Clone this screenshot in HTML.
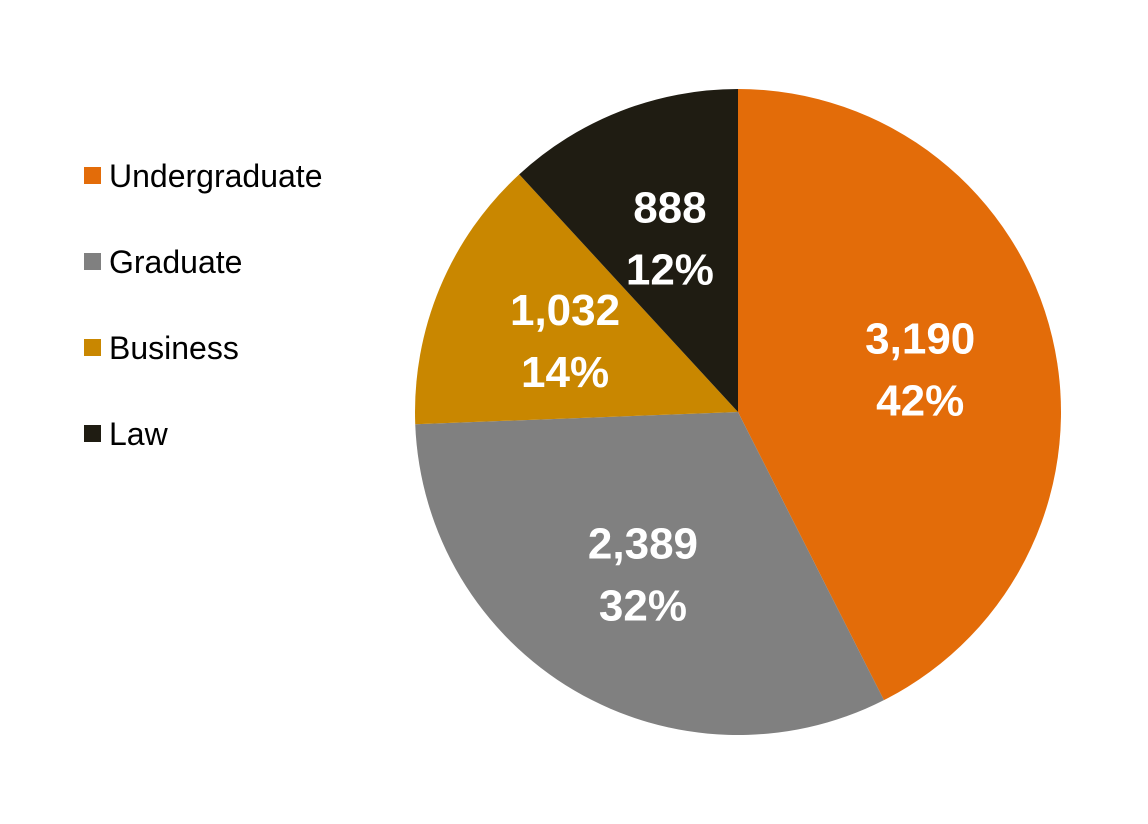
<!DOCTYPE html>
<html><head><meta charset="utf-8"><style>
body{margin:0;background:#fff;}
svg{display:block}
</style></head><body>
<svg id="chart" width="1148" height="824" viewBox="0 0 1148 824" xmlns="http://www.w3.org/2000/svg">
<g id="legend"></g>
<g id="slices"></g>
<g id="labels"></g>
</svg>
<script>
const categories = ["Undergraduate","Graduate","Business","Law"];
const values = [3190,2389,1032,888];
const percentLabels = ["42%","32%","14%","12%"];
const colors = ["#E36C09","#808080","#C98700","#1F1C12"];
const NS="http://www.w3.org/2000/svg";
const cx=738, cy=412, R=323;
const total=values.reduce((a,b)=>a+b,0);
const sl=document.getElementById('slices'), lb=document.getElementById('labels'), lg=document.getElementById('legend');
function pt(a,r){return [cx+r*Math.sin(a), cy-r*Math.cos(a)];}
let acc=0;
values.forEach((v,i)=>{
  const a0=acc/total*2*Math.PI; acc+=v; const a1=acc/total*2*Math.PI;
  const p0=pt(a0,R), p1=pt(a1,R);
  const large=(a1-a0)>Math.PI?1:0;
  const p=document.createElementNS(NS,'path');
  p.setAttribute('d',`M${cx},${cy} L${p0[0]},${p0[1]} A${R},${R} 0 ${large} 1 ${p1[0]},${p1[1]} Z`);
  p.setAttribute('fill',colors[i]);
  
  
  sl.appendChild(p);
  const am=(a0+a1)/2, lp=pt(am,R*0.58);
  [values[i].toLocaleString('en-US'),percentLabels[i]].forEach((s,k)=>{
    const t=document.createElementNS(NS,'text');
    t.setAttribute('x',lp[0]); t.setAttribute('y',lp[1]+(k===0?-15:47));
    t.setAttribute('text-anchor','middle');
    t.setAttribute('font-family','Liberation Sans, sans-serif');
    t.setAttribute('font-weight','bold'); t.setAttribute('font-size','44');
    t.setAttribute('fill','#fff');
    t.textContent=s;
    
    
    lb.appendChild(t);
  });
  const ly=176+i*86;
  const r=document.createElementNS(NS,'rect');
  r.setAttribute('x',84); r.setAttribute('y',ly-9); r.setAttribute('width',17); r.setAttribute('height',17);
  r.setAttribute('fill',colors[i]);
  
  
  lg.appendChild(r);
  const t=document.createElementNS(NS,'text');
  t.setAttribute('x',109); t.setAttribute('y',ly+11);
  t.setAttribute('font-family','Liberation Sans, sans-serif'); t.setAttribute('font-size','32');
  t.setAttribute('fill','#000');
  t.textContent=categories[i];
  
  
  lg.appendChild(t);
});
</script>
</body></html>
